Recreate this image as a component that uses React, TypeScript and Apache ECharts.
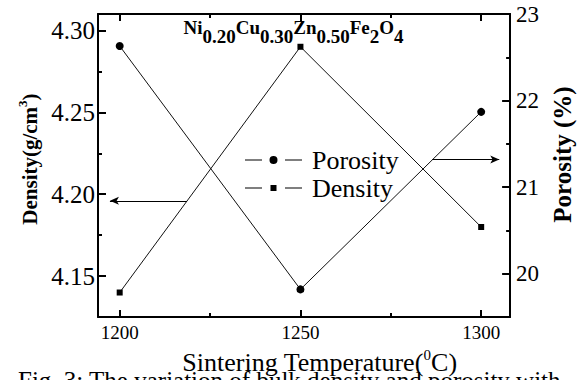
import { useEffect, useRef } from "react";
import * as echarts from "echarts";

// ---- data ----
const temperatures = [1200, 1250, 1300];
const density = [4.14, 4.29, 4.18];
const porosity = [22.63, 19.82, 21.87];

const xMajorTicks = [1200, 1250, 1300];
const xMinorTicks = [1225, 1275];
const densityMajorTicks = [4.15, 4.2, 4.25, 4.3];
const densityMinorTicks = [4.175, 4.225, 4.275];
const porosityMajorTicks = [20, 21, 22, 23];
const porosityMinorTicks = [20.5, 21.5, 22.5];

const xRange = [1194, 1308];
const densityRange = [4.125, 4.31];
const porosityRange = [19.5, 23];

const densityArrow = [
  [1218.6, 4.196],
  [1197.3, 4.196],
];
const porosityArrow = [
  [1286.5, 21.32],
  [1305, 21.32],
];

const FONT = "Liberation Serif, Times New Roman, serif";

const circleIcon =
  "path://M0,4.5h17v1h-17z M40,4.5h17v1h-17z M32.5,5a4,4 0 1 1 -8,0a4,4 0 1 1 8,0z";
const squareIcon =
  "path://M0,4.5h17v1h-17z M40,4.5h17v1h-17z M25.5,2h6v6h-6z";

export default function App() {
  const ref = useRef<HTMLDivElement>(null);

  useEffect(() => {
    if (!ref.current) return;
    const chart = echarts.init(ref.current, undefined, { renderer: "svg" });

    const axisLineStyle = { color: "#000", width: 2 };
    const tickStyle = { color: "#000", width: 2 };

    const xBase = {
      type: "value",
      min: xRange[0],
      max: xRange[1],
      splitLine: { show: false },
      axisLine: { show: false, onZero: false },
      axisLabel: { show: false },
      axisTick: { show: false },
    };
    const yDensityBase = {
      type: "value",
      min: densityRange[0],
      max: densityRange[1],
      splitLine: { show: false },
      axisLine: { show: false, onZero: false },
      axisLabel: { show: false },
      axisTick: { show: false },
    };
    const yPorosityBase = {
      type: "value",
      min: porosityRange[0],
      max: porosityRange[1],
      splitLine: { show: false },
      axisLine: { show: false, onZero: false },
      axisLabel: { show: false },
      axisTick: { show: false },
    };

    const option: any = {
      animation: false,
      backgroundColor: "#fff",
      textStyle: { fontFamily: FONT, color: "#000" },
      grid: { left: 98, right: 72, top: 14, bottom: 53, containLabel: false },
      legend: {
        orient: "vertical",
        left: 240,
        top: 141,
        itemWidth: 57,
        itemHeight: 10,
        itemGap: 0,
        selectedMode: false,
        data: [
          { name: "Porosity", icon: circleIcon },
          { name: "Density", icon: squareIcon },
        ],
        textStyle: {
          fontFamily: FONT,
          fontSize: 26,
          color: "#000",
          lineHeight: 28,
          padding: [0, 0, 0, 5],
        },
      },
      xAxis: [
        {
          ...xBase,
          position: "bottom",
          axisLine: { show: true, onZero: false, lineStyle: axisLineStyle },
          axisTick: {
            show: true,
            inside: true,
            length: 7,
            lineStyle: tickStyle,
            customValues: xMajorTicks,
          },
          axisLabel: {
            show: true,
            customValues: xMajorTicks,
            margin: 6,
            fontSize: 19,
            fontFamily: FONT,
            color: "#000",
            formatter: (v: number) => String(v),
          },
          name: "{n|Sintering Temperature(}{sup|0}{n|C)}",
          nameLocation: "middle",
          nameGap: 21,
          nameTextStyle: {
            fontFamily: FONT,
            padding: [0, 0, 0, 31],
            rich: {
              n: { fontFamily: FONT, fontSize: 26, color: "#000", lineHeight: 28, verticalAlign: "bottom" },
              sup: { fontFamily: FONT, fontSize: 15, color: "#000", lineHeight: 15, verticalAlign: "top" },
            },
          },
        },
        {
          ...xBase,
          position: "bottom",
          axisTick: {
            show: true,
            inside: true,
            length: 4,
            lineStyle: tickStyle,
            customValues: xMinorTicks,
          },
        },
        {
          ...xBase,
          position: "top",
          axisLine: { show: true, onZero: false, lineStyle: axisLineStyle },
          axisTick: {
            show: true,
            inside: true,
            length: 7,
            lineStyle: tickStyle,
            customValues: xMajorTicks,
          },
        },
        {
          ...xBase,
          position: "top",
          axisTick: {
            show: true,
            inside: true,
            length: 4,
            lineStyle: tickStyle,
            customValues: xMinorTicks,
          },
        },
      ],
      yAxis: [
        {
          ...yDensityBase,
          position: "left",
          axisLine: { show: true, onZero: false, lineStyle: axisLineStyle },
          axisTick: {
            show: true,
            inside: true,
            length: 8,
            lineStyle: tickStyle,
            customValues: densityMajorTicks,
          },
          axisLabel: {
            show: true,
            customValues: densityMajorTicks,
            margin: 3,
            fontSize: 25,
            fontFamily: FONT,
            color: "#000",
            formatter: (v: number) => v.toFixed(2),
          },
          name: "{n|Density(g/cm}{sup|3}{n|)}",
          nameLocation: "middle",
          nameRotate: 90,
          nameGap: 58,
          nameTextStyle: {
            fontFamily: FONT,
            padding: [0, 0, 0, 13],
            rich: {
              n: { fontFamily: FONT, fontWeight: "bold", fontSize: 21, color: "#000", lineHeight: 24, verticalAlign: "bottom" },
              sup: { fontFamily: FONT, fontWeight: "bold", fontSize: 13, color: "#000", lineHeight: 13, verticalAlign: "top" },
            },
          },
        },
        {
          ...yDensityBase,
          position: "left",
          axisTick: {
            show: true,
            inside: true,
            length: 4,
            lineStyle: tickStyle,
            customValues: densityMinorTicks,
          },
        },
        {
          ...yPorosityBase,
          position: "right",
          axisLine: { show: true, onZero: false, lineStyle: axisLineStyle },
          axisTick: {
            show: true,
            inside: true,
            length: 8,
            lineStyle: tickStyle,
            customValues: porosityMajorTicks,
          },
          axisLabel: {
            show: true,
            customValues: porosityMajorTicks,
            margin: 6,
            fontSize: 23,
            fontFamily: FONT,
            color: "#000",
          },
          name: "Porosity (%)",
          nameLocation: "middle",
          nameRotate: 90,
          nameGap: 37,
          nameTextStyle: {
            fontFamily: FONT,
            fontWeight: "bold",
            fontSize: 25,
            color: "#000",
            padding: [0, 0, 0, 22],
          },
        },
        {
          ...yPorosityBase,
          position: "right",
          axisTick: {
            show: true,
            inside: true,
            length: 4,
            lineStyle: tickStyle,
            customValues: porosityMinorTicks,
          },
        },
      ],
      graphic: [
        {
          type: "text",
          x: 293.5,
          y: 18,
          style: {
            text:
              "{m|Ni}{s|0.20}{m|Cu}{s|0.30}{m|Zn}{s|0.50}{m|Fe}{s|2}{m|O}{s|4}",
            align: "center",
            verticalAlign: "top",
            fill: "#000",
            fontFamily: FONT,
            rich: {
              m: { fontFamily: FONT, fontWeight: "bold", fontSize: 19, lineHeight: 20, verticalAlign: "top", fill: "#000" },
              s: { fontFamily: FONT, fontWeight: "bold", fontSize: 19, lineHeight: 36, verticalAlign: "middle", fill: "#000" },
            },
          },
        },
        {
          type: "text",
          x: 18,
          y: 380,
          style: {
            text: "Fig. 3: The variation of bulk density and porosity with",
            fontFamily: FONT,
            fontSize: 25,
            fill: "#000",
            align: "left",
            verticalAlign: "middle",
          },
        },
      ],
      series: [
        {
          name: "Porosity",
          type: "line",
          xAxisIndex: 0,
          yAxisIndex: 2,
          data: temperatures.map((t, i) => [t, porosity[i]]),
          symbol: "circle",
          symbolSize: 8,
          color: "#000",
          itemStyle: { color: "#000", borderWidth: 0 },
          lineStyle: { color: "#111", width: 1 },
          markLine: {
            silent: true,
            symbol: ["none", "arrow"],
            symbolSize: [6, 9],
            label: { show: false },
            lineStyle: { color: "#000", width: 1, type: "solid" },
            data: [[{ coord: porosityArrow[0] }, { coord: porosityArrow[1] }]],
          },
        },
        {
          name: "Density",
          type: "line",
          xAxisIndex: 0,
          yAxisIndex: 0,
          data: temperatures.map((t, i) => [t, density[i]]),
          symbol: "rect",
          symbolSize: 6,
          color: "#000",
          itemStyle: { color: "#000", borderWidth: 0 },
          lineStyle: { color: "#111", width: 1 },
          markLine: {
            silent: true,
            symbol: ["none", "arrow"],
            symbolSize: [6, 9],
            label: { show: false },
            lineStyle: { color: "#000", width: 1, type: "solid" },
            data: [[{ coord: densityArrow[0] }, { coord: densityArrow[1] }]],
          },
        },
      ],
    };

    chart.setOption(option);
    return () => chart.dispose();
  }, []);

  return (
    <div
      ref={ref}
      style={{ position: "absolute", left: 0, top: 0, width: 583, height: 380 }}
    />
  );
}
